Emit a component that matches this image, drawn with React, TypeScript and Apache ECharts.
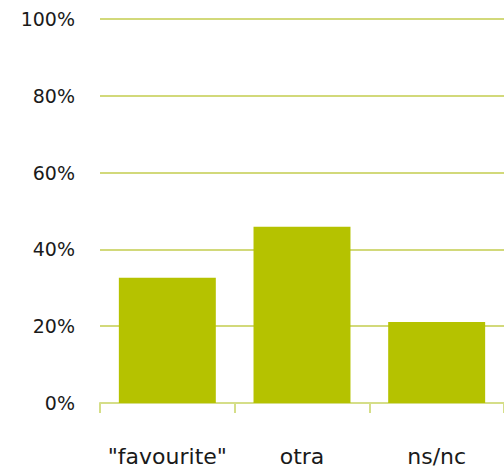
import React, { useEffect, useRef } from "react";
import * as echarts from "echarts";

const categories = ['"favourite"', "otra", "ns/nc"];
const values = [32.6, 45.9, 21.1];
const yTicks = { min: 0, max: 100, interval: 20 };

export default function App() {
  const ref = useRef<HTMLDivElement>(null);
  useEffect(() => {
    if (!ref.current) return;
    const chart = echarts.init(ref.current, null, { renderer: "svg" });
    chart.setOption({
      animation: false,
      backgroundColor: "#ffffff",
      grid: { left: 100, right: -5, top: 19, bottom: 69, containLabel: false },
      xAxis: {
        type: "category",
        data: categories,
        boundaryGap: true,
        axisLine: { show: true, lineStyle: { color: "#d5de88", width: 2 } },
        axisTick: { show: true, interval: 0, length: 10, lineStyle: { color: "#d5de88", width: 2 } },
        axisLabel: {
          interval: 0,
          margin: 42,
          fontSize: 22,
          color: "#1a1a1a",
          fontFamily: "DejaVu Sans",
        },
      },
      yAxis: {
        type: "value",
        min: yTicks.min,
        max: yTicks.max,
        interval: yTicks.interval,
        axisLine: { show: false },
        axisTick: { show: false },
        splitLine: { show: true, lineStyle: { color: "#c3cd4e", width: 1.5 } },
        axisLabel: {
          formatter: "{value}%",
          margin: 25,
          fontSize: 19,
          color: "#1a1a1a",
          fontFamily: "DejaVu Sans",
        },
      },
      series: [
        {
          type: "bar",
          data: values,
          barWidth: "72%",
          itemStyle: { color: "#b5c200" },
        },
      ],
    });
    return () => chart.dispose();
  }, []);
  return (
    <div
      ref={ref}
      style={{ position: "fixed", left: 0, top: 0, width: 504, height: 472 }}
    />
  );
}
